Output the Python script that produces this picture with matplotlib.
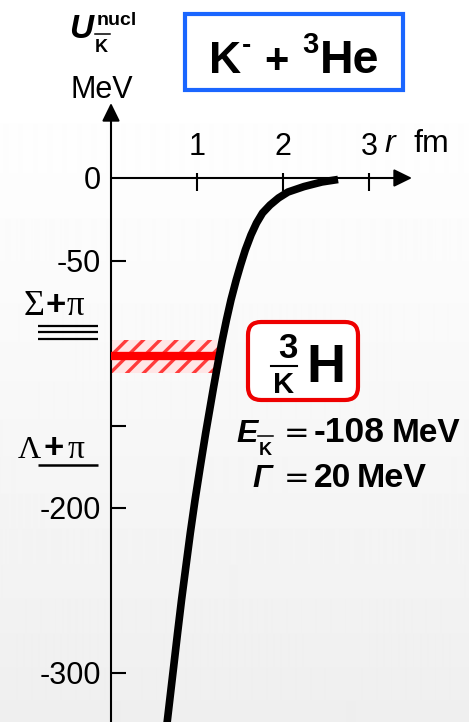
import numpy as np
import matplotlib
matplotlib.use("Agg")
import matplotlib.pyplot as plt
from matplotlib.patches import Rectangle, FancyBboxPatch
from matplotlib.lines import Line2D

# Antikaon-nucleus potential U(r) for K- + 3He (r in fm, U in MeV)
r_fm = [2.640, 2.453, 2.244, 2.058, 1.948, 1.849, 1.762, 1.692, 1.628, 1.562,
        1.507, 1.456, 1.395, 1.342, 1.287, 1.250, 1.193, 1.147, 1.101, 1.037,
        0.977, 0.922, 0.870, 0.820, 0.774, 0.728, 0.683, 0.648]
u_mev = [-0.9, -2.4, -5.2, -8.5, -12.1, -16.4, -21.2, -27.3, -34.5, -43.6,
         -52.7, -61.8, -73.9, -86.1, -100.0, -110.3, -126.7, -140.6, -154.5, -175.2,
         -195.2, -215.2, -235.8, -255.8, -275.8, -296.4, -316.4, -332.0]

# Bound state: binding energy and width
e_bind = -108
gamma = 20
band_r_max = 1.23

# Decay thresholds
sigma_pi_levels = [-89.5, -93.5, -97.5]
lambda_pi_level = -174

# Axis ticks
xtick_vals = [1, 2, 3]
xtick_labels = ["1", "2", "3"]
ytick_vals = [-50, -100, -150, -200, -300]
ylabel_vals = [0, -50, -200, -300]
ylabel_text = ["0", "-50", "-200", "-300"]

W, H = 469, 722
X0, Y0 = 111, 178        # origin in pixels
SX, SY = 86.0, 1.65      # pixels per fm, pixels per MeV

SANS = "Liberation Sans"
SERIF = "Liberation Serif"

plt.rcParams["hatch.linewidth"] = 2.4

fig = plt.figure(figsize=(W / 100, H / 100), dpi=100)

# soft vertical background gradient
bg = fig.add_axes([0, 0, 1, 1], zorder=-10)
yy = np.arange(H)
t = np.clip((yy - 60) / (H - 60), 0, 1)
shade = 1.0 - 0.065 * t ** 1.2
bg.imshow(shade[:, None], cmap="gray", vmin=0, vmax=1, aspect="auto",
          extent=[0, 1, 0, 1], interpolation="bilinear")
bg.axis("off")

ax = fig.add_axes([0, 0, 1, 1])
ax.set_xlim(-X0 / SX, (W - X0) / SX)
ax.set_ylim((Y0 - H) / SY, Y0 / SY)
ax.axis("off")
ax.patch.set_alpha(0)


def px(x, y):
    return (x / 100, (H - y) / 100)


def ftext(x, y, s, **kw):
    kw.setdefault("family", SANS)
    kw.setdefault("ha", "left")
    kw.setdefault("va", "baseline")
    fig.text(*px(x, y), s, transform=fig.dpi_scale_trans, **kw)


def fline(x1, x2, y, lw=1.2, color="black"):
    fig.add_artist(Line2D([x1 / 100, x2 / 100], [(H - y) / 100, (H - y) / 100],
                          transform=fig.dpi_scale_trans, lw=lw, color=color))


arrow_style = "-|>,head_length=0.55,head_width=0.27"
# axes with arrow heads
ax.annotate("", xy=(3.5, 0), xytext=(0, 0),
            arrowprops=dict(arrowstyle=arrow_style, lw=1.5, color="black",
                            mutation_scale=20, shrinkA=0, shrinkB=0))
ax.annotate("", xy=(0, (Y0 - 103) / SY), xytext=(0, -340),
            arrowprops=dict(arrowstyle=arrow_style, lw=1.5, color="black",
                            mutation_scale=20, shrinkA=0, shrinkB=0))

# ticks
for v in ytick_vals:
    ax.plot([0, 15 / SX], [v, v], color="black", lw=1.5, solid_capstyle="butt")
for v in xtick_vals:
    ax.plot([v, v], [3, -8], color="black", lw=1.5, solid_capstyle="butt")

for v, s in zip(ylabel_vals, ylabel_text):
    ax.annotate(s, xy=(0, v), xytext=(-10, -3), textcoords="offset pixels",
                ha="right", va="center", fontsize=22, family=SANS)
for v, s in zip(xtick_vals, xtick_labels):
    ax.annotate(s, xy=(v, 0), xytext=(0, 31), textcoords="offset pixels",
                ha="center", va="center", fontsize=22, family=SANS)

ftext(384, 152, "r", fontsize=23, style="italic")
ftext(413, 152, "fm", fontsize=23)

# y-axis title  U^nucl_Kbar  and unit
ftext(69, 38, "U", fontsize=24, weight="bold", style="italic")
ftext(97, 25, "nucl", fontsize=14, weight="bold")
ftext(95, 52, "K", fontsize=13, weight="bold")
fline(95, 110, 34, lw=1.1)
ftext(102, 98, "MeV", fontsize=22, ha="center")

# bound-state band and level
ax.add_patch(Rectangle((0, e_bind - gamma / 2), band_r_max, gamma,
                       facecolor="#ffe6e6", edgecolor="#ff3b3b", hatch="//",
                       lw=0, zorder=2))
ax.plot([0, band_r_max], [e_bind, e_bind], color="#ff0000", lw=6,
        solid_capstyle="butt", zorder=3)

# potential curve
ax.plot(r_fm, u_mev, color="black", lw=5.5, solid_capstyle="butt",
        solid_joinstyle="round", zorder=4)

# thresholds
for lv in sigma_pi_levels:
    ax.plot([(38 - X0) / SX, (98 - X0) / SX], [lv, lv], color="black", lw=1.6,
            solid_capstyle="butt")
ax.plot([(38 - X0) / SX, (98 - X0) / SX], [lambda_pi_level] * 2, color="black",
        lw=1.8, solid_capstyle="butt")

ftext(24, 315, "Σ", fontsize=26, family=SERIF)
ftext(56, 315, "+", fontsize=25, weight="bold", ha="center")
ftext(67, 315, "π", fontsize=25, family=SERIF)
ftext(18, 458, "Λ", fontsize=23, family=SERIF)
ftext(54, 458, "+", fontsize=25, weight="bold", ha="center")
ftext(67, 458, "π", fontsize=24, family=SERIF)

# reaction title box
fig.add_artist(Rectangle(px(185, 90), 218 / 100, 76 / 100, transform=fig.dpi_scale_trans,
                         fill=False, edgecolor="#1a66ff", lw=3))
ftext(209, 73, "K", fontsize=32, weight="bold")
ftext(242, 53, "-", fontsize=20, weight="bold")
ftext(276, 73, "+", fontsize=30, weight="bold", ha="center")
ftext(302, 53, "3", fontsize=21, weight="bold")
ftext(320, 73, "He", fontsize=33.5, weight="bold")

# hypernucleus label box
fig.add_artist(FancyBboxPatch(px(248, 400), 110 / 100, 78 / 100,
                              boxstyle="round,pad=0,rounding_size=0.13",
                              transform=fig.dpi_scale_trans, facecolor="white",
                              edgecolor="#ee0000", lw=3))
ftext(288, 358, "3", fontsize=25, weight="bold", ha="center")
fline(271, 297, 366, lw=1.5)
ftext(284, 393, "K", fontsize=21, weight="bold", ha="center")
ftext(306, 382, "H", fontsize=39, weight="bold")

# binding energy and width
ftext(236, 442, "E", fontsize=23, weight="bold", style="italic")
ftext(259, 455, "K", fontsize=13, weight="bold")
fline(258, 273, 436, lw=1.1)
ftext(297, 442, "=", fontsize=22, family="DejaVu Sans", ha="center")
ftext(314, 442, "-108", fontsize=25.5, weight="bold")
ftext(392, 442, "MeV", fontsize=24, weight="bold")

ftext(252, 487, "Γ", fontsize=23, weight="bold", style="italic")
ftext(297, 487, "=", fontsize=22, family="DejaVu Sans", ha="center")
ftext(314, 487, "20", fontsize=24, weight="bold")
ftext(357, 487, "MeV", fontsize=24.5, weight="bold")

fig.savefig("out.png", dpi=100)
